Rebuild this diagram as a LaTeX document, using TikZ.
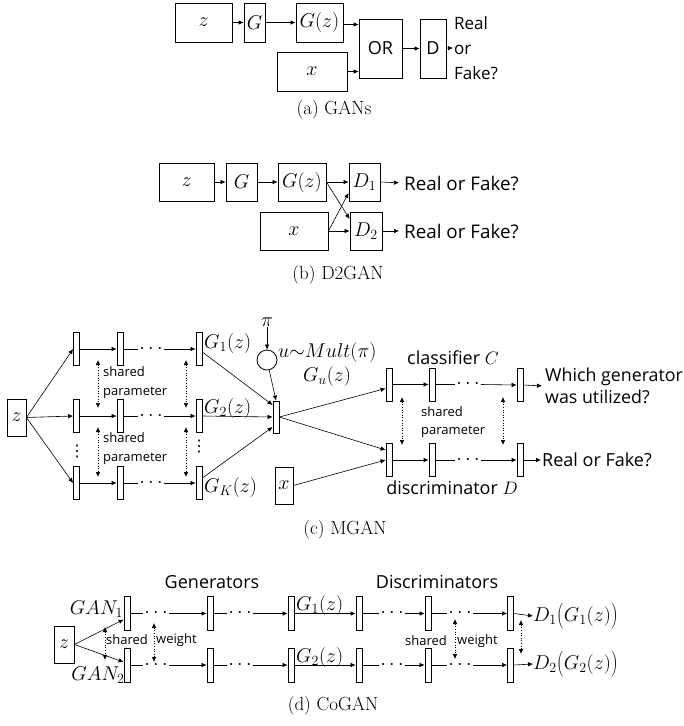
\RequirePackage{fix-cm}
\documentclass[tikz,border=0pt]{standalone}
\usepackage{fontspec}
\usepackage{graphicx}
\setsansfont{Open Sans}
\newfontfamily\SymF{DejaVu Sans}
\usetikzlibrary{arrows.meta,calc}
\newcommand\LblF{\sffamily\fontsize{18}{22}\selectfont}
\newcommand\RFbF{\sffamily\fontsize{18.8}{22}\selectfont}
\newcommand\RFF{\sffamily\fontsize{17}{25}\selectfont}
\newcommand\WGF{\sffamily\fontsize{17.8}{22}\selectfont}
\newcommand\SmF{\sffamily\fontsize{13}{18.5}\selectfont}
\newcommand\CapF{\rmfamily\fontsize{19}{22}\selectfont}
\newcommand\MathF{\fontsize{20}{23}\selectfont}
\newcommand\BigOpen{\mathopen{\vcenter{\hbox{\scalebox{1}[1.3]{$($}}}}}
\newcommand\BigClose{\mathclose{\vcenter{\hbox{\scalebox{1}[1.3]{$)$}}}}}
\begin{document}
\begin{tikzpicture}[x=1pt,y=-1pt,
  box/.style={draw,line width=0.8pt,inner sep=0pt,font=\MathF},
  bar/.style={draw,line width=0.8pt,inner sep=0pt,minimum width=6pt,minimum height=33pt},
  arr/.style={-{Latex[length=5pt,width=4.5pt]},line width=0.6pt},
  ln/.style={line width=0.6pt},
  darr/.style={{Latex[length=5pt,width=4.5pt]}-{Latex[length=5pt,width=4.5pt]},dotted,line width=0.6pt},
  dotsn/.style={inner sep=1pt,font=\MathF},
  vdotsn/.style={inner sep=0pt,font=\SymF\fontsize{16}{18}\selectfont},
  lbl/.style={inner sep=1pt,font=\LblF,align=left},
  sm/.style={inner sep=0pt,font=\SmF,align=left},
  capt/.style={inner sep=0pt,font=\CapF},
  ml/.style={inner sep=0pt,font=\MathF}
]
\useasboundingbox (0,0) rectangle (684,726);

% ---------------- (a) GANs
\node[box,minimum width=57pt,minimum height=39pt] (za) at (203.5,22.5) {$z$};
\node[box,minimum width=21pt,minimum height=39pt] (Ga) at (254.5,22.5) {$G$};
\node[box,minimum width=47pt,minimum height=39pt] (Gza) at (319.5,22.5) {$G(z)$};
\node[box,minimum width=70pt,minimum height=39pt] (xa) at (312,71.5) {$x$};
\node[box,font=\LblF,minimum width=43pt,minimum height=59pt] (ORa) at (380.5,48.5) {OR};
\node[box,font=\LblF,minimum width=26pt,minimum height=59pt] (Da) at (433,48.5) {D};
\node[lbl,font=\RFF,anchor=west] (rfa) at (453,48) {Real\\or\\Fake?};
\draw[arr] (za) -- (Ga);
\draw[arr] (Ga) -- (Gza);
\draw[arr] ($(Gza.east)+(0,2)$) -- ($(ORa.west|-Gza.east)+(0,2)$);
\draw[arr] (xa.east) -- (ORa.west|-xa.east);
\draw[arr] (ORa) -- (Da);
\draw[arr] (Da) -- (rfa.west);
\node[capt] (capa) at (334,110) {(a) GANs};

% ---------------- (b) D2GAN
\node[box,minimum width=55pt,minimum height=38pt] (zb) at (186.5,182) {$z$};
\node[box,minimum width=31pt,minimum height=38pt] (Gb) at (241.5,182) {$G$};
\node[box,minimum width=48pt,minimum height=38pt] (Gzb) at (302,182) {$G(z)$};
\node[box,minimum width=31pt,minimum height=38pt] (D1b) at (364.5,182) {$D_1$};
\node[box,minimum width=68pt,minimum height=38pt] (xb) at (294,231) {$x$};
\node[box,minimum width=32pt,minimum height=38pt] (D2b) at (366,231) {$D_2$};
\node[lbl,font=\RFbF,anchor=west] (rf1) at (403,183) {Real or Fake?};
\node[lbl,font=\RFbF,anchor=west] (rf2) at (403,231) {Real or Fake?};
\draw[arr] (zb) -- (Gb);
\draw[arr] (Gb) -- (Gzb);
\draw[arr] (Gzb) -- (D1b);
\draw[arr] (Gzb.east) -- ($(D2b.west)+(0,-12)$);
\draw[arr] (xb.east) -- ($(D1b.west)+(0,11)$);
\draw[arr] (xb) -- (D2b);
\draw[arr,shorten >=4pt] (D1b.east) -- (rf1.west);
\draw[arr,shorten >=4pt] (D2b.east) -- (rf2.west);
\node[capt] (capb) at (338,275) {(b) D2GAN};

% ---------------- (c) MGAN
\node[box,minimum width=19pt,minimum height=37pt] (zc) at (16.5,417.5) {$z$};
\foreach \r/\y in {1/349,2/416,3/483}{
  \node[bar] (b\r1) at (76.5,\y) {};
  \node[bar] (b\r2) at (120,\y) {};
  \node[bar] (b\r3) at (199,\y) {};
  \node[dotsn] (d\r) at (151,\y) {$\cdots$};
  \draw[arr] (zc.east) -- (b\r1.west);
  \draw[arr] (b\r1) -- (b\r2);
  \draw[ln] (b\r2.east) -- (d\r.west);
  \draw[arr] (d\r.east) -- (b\r3.west);
}
\node[vdotsn] (vd1) at (77,452) {⋮};
\node[vdotsn] (vd2) at (199,447) {⋮};
\node[ml,anchor=west] (G1c) at (204,343) {$G_1(z)$};
\node[ml,anchor=west] (G2c) at (204,408) {$G_2(z)$};
\node[ml,anchor=west] (GKc) at (204,487) {$G_K(z)$};
\node[sm,anchor=west] (sp1) at (103,382.5) {shared\\parameter};
\node[sm,anchor=west] (sp2) at (103,448.5) {shared\\parameter};
\coordinate (pa1) at (98,360); \coordinate (pa2) at (98,408);
\coordinate (pb1) at (98,427); \coordinate (pb2) at (98,477);
\coordinate (pc1) at (186,360); \coordinate (pc2) at (186,408);
\coordinate (pd1) at (186,427); \coordinate (pd2) at (186,477);
\draw[darr] (pa1) -- (pa2);
\draw[darr] (pb1) -- (pb2);
\draw[darr] (pc1) -- (pc2);
\draw[darr] (pd1) -- (pd2);

\node[ml] (pi) at (267,322) {$\pi$};
\node[draw,circle,line width=0.8pt,minimum size=20pt,inner sep=0pt] (circ) at (267,360) {};
\node[bar,minimum height=32pt] (comb) at (276,417) {};
\node[ml,anchor=west] (umult) at (278,352) {$u\mathord{\sim}Mult(\pi)$};
\node[ml] (Guc) at (327,376) {$G_u(z)$};
\node[box,minimum width=18pt,minimum height=37pt] (xc) at (284,485.5) {$x$};
\draw[arr] (pi) -- (circ);
\draw[arr] (circ) -- (comb.north);
\draw[arr] ($(b13.east)+(0,3)$) -- ($(comb.west)+(0,-12)$);
\draw[arr] (b23.east) -- (comb.west);
\draw[arr] ($(b33.east)+(0,-5)$) -- ($(comb.west)+(0,10)$);

\node[bar] (cb1) at (389,384.5) {};
\node[bar] (cb2) at (432,384.5) {};
\node[bar] (cb3) at (520,385) {};
\node[bar] (db1) at (389,460) {};
\node[bar] (db2) at (432,460) {};
\node[bar] (db3) at (520,460) {};
\node[dotsn] (dc) at (468,384.5) {$\cdots$};
\node[dotsn] (dd) at (468,460) {$\cdots$};
\draw[arr] (comb.east) -- ($(cb1.west)+(0,4)$);
\draw[arr] (comb.east) -- ($(db1.west)+(0,-10)$);
\draw[arr] (xc.east) -- (db1.west);
\draw[arr] (cb1) -- (cb2);
\draw[ln] (cb2.east) -- (dc.west);
\draw[arr] (dc.east) -- (cb3.west);
\draw[arr] (db1) -- (db2);
\draw[ln] (db2.east) -- (dd.west);
\draw[arr] (dd.east) -- (db3.west);
\node[lbl,font=\WGF,anchor=west] (which) at (544,386) {Which generator\\was utilized?};
\node[lbl,anchor=west] (rfc) at (541,460) {Real or Fake?};
\draw[arr,shorten >=2pt] (cb3.east) -- (which.west);
\draw[arr] (db3.east) -- (rfc.west);
\node[lbl] (clsC) at (453,358) {classifier $C$};
\node[lbl] (disD) at (452,488) {discriminator $D$};
\node[sm,anchor=west] (sp3) at (421,422) {shared\\parameter};
\coordinate (pe1) at (402,397); \coordinate (pe2) at (402,445);
\coordinate (pf1) at (503,397); \coordinate (pf2) at (503,445);
\draw[darr] (pe1) -- (pe2);
\draw[darr] (pf1) -- (pf2);
\node[capt] (capc) at (345,530) {(c) MGAN};

% ---------------- (d) CoGAN
\node[box,minimum width=20pt,minimum height=37pt] (zd) at (64,644.5) {$z$};
\foreach \r/\y in {1/613.5,2/665}{
  \node[bar,minimum height=34pt] (g\r1) at (127,\y) {};
  \node[bar,minimum height=34pt] (g\r2) at (210,\y) {};
  \node[bar,minimum height=34pt] (g\r3) at (291,\y) {};
  \node[dotsn] (gd\r a) at (156,\y) {$\cdots$};
  \node[dotsn] (gd\r b) at (240,\y) {$\cdots$};
  \node[bar,minimum height=34pt] (e\r1) at (359,\y) {};
  \node[bar,minimum height=34pt] (e\r2) at (428,\y) {};
  \node[bar,minimum height=34pt] (e\r3) at (510.5,\y) {};
  \node[dotsn] (ed\r a) at (392,\y) {$\cdots$};
  \node[dotsn] (ed\r b) at (460,\y) {$\cdots$};
  \draw[ln] (g\r1.east) -- (gd\r a.west);
  \draw[arr] (gd\r a.east) -- (g\r2.west);
  \draw[ln] (g\r2.east) -- (gd\r b.west);
  \draw[arr] (gd\r b.east) -- (g\r3.west);
  \draw[arr] (g\r3.east) -- (e\r1.west);
  \draw[ln] (e\r1.east) -- (ed\r a.west);
  \draw[arr] (ed\r a.east) -- (e\r2.west);
  \draw[ln] (e\r2.east) -- (ed\r b.west);
  \draw[arr] (ed\r b.east) -- (e\r3.west);
}
\draw[arr] (zd.east) -- ($(g11.west)+(0,6)$);
\draw[arr] (zd.east) -- ($(g21.west)+(0,-3)$);
\node[ml] (gan1) at (96.5,609) {$GAN_1$};
\node[ml] (gan2) at (98,675) {$GAN_2$};
\node[ml,anchor=west] (G1d) at (296,605) {$G_1(z)$};
\node[ml,anchor=west] (G2d) at (296,657) {$G_2(z)$};
\node[ml,anchor=west] (D1d) at (533,616) {$D_1\BigOpen G_1(z)\BigClose$};
\node[ml,anchor=west] (D2d) at (533,664) {$D_2\BigOpen G_2(z)\BigClose$};
\draw[arr] (e13.east) -- (D1d.west);
\draw[arr] (e23.east) -- (D2d.west);
\node[lbl] (gens) at (212,582) {Generators};
\node[lbl] (discs) at (437,582) {Discriminators};
\node[sm,anchor=west] (sw1) at (106,640) {shared};
\node[sm,anchor=west] (sw2) at (156,640) {weight};
\node[sm,anchor=west] (sw3) at (405,641) {shared};
\node[sm,anchor=west] (sw4) at (457,641) {weight};
\coordinate (qa1) at (105,627); \coordinate (qa2) at (105,660);
\coordinate (qb1) at (154,623); \coordinate (qb2) at (154,662);
\coordinate (qc1) at (455,619); \coordinate (qc2) at (455,659);
\coordinate (qd1) at (521,620); \coordinate (qd2) at (521,654);
\draw[darr] (qa1) -- (qa2);
\draw[darr] (qb1) -- (qb2);
\draw[darr] (qc1) -- (qc2);
\draw[darr] (qd1) -- (qd2);
\node[capt] (capd) at (333,706) {(d) CoGAN};
\end{tikzpicture}
\end{document}
